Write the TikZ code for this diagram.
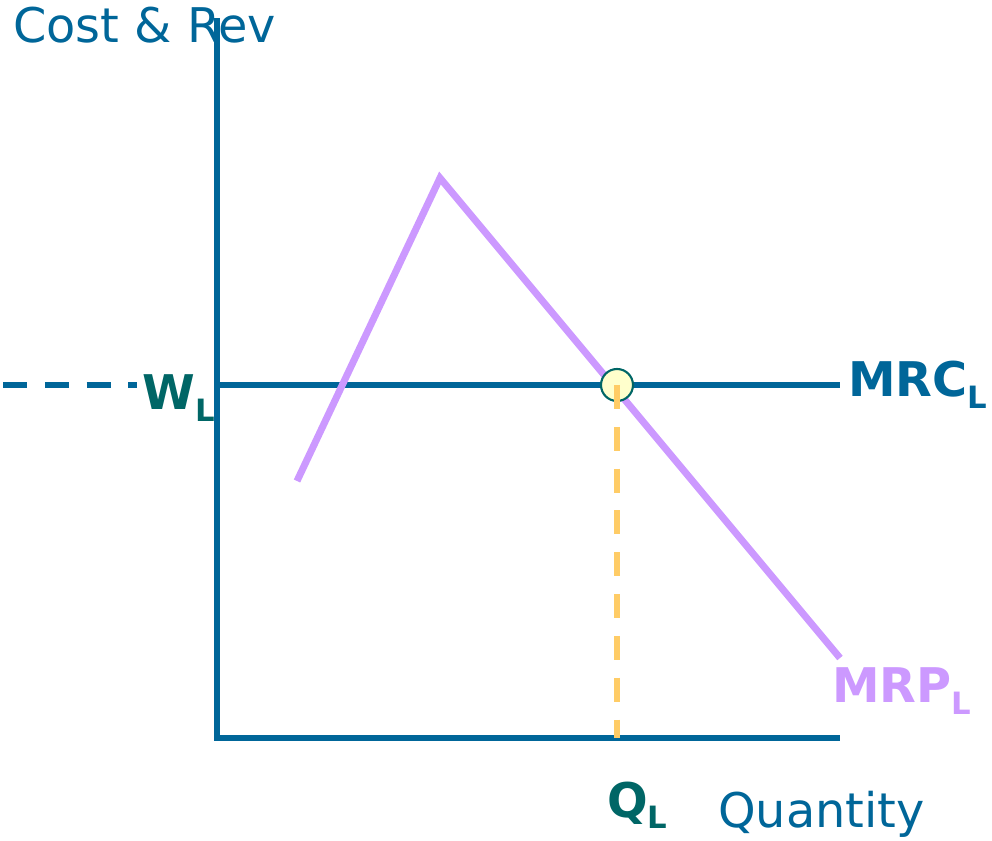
\documentclass[tikz,border=0pt]{standalone}
\usepackage{fontspec}
\setmainfont{DejaVu Sans}
\definecolor{axisblue}{HTML}{006699}
\definecolor{labelteal}{HTML}{006666}
\definecolor{mrppurple}{HTML}{CC99FF}
\definecolor{qorange}{HTML}{FFCC66}
\definecolor{dotfill}{HTML}{FFFFCC}
\newcommand{\lsub}[1]{\raisebox{-6.8pt}{\fontsize{17.5}{18}\selectfont #1}}
\begin{document}
\begin{tikzpicture}[x=0.02cm, y=-0.02cm]
      \tikzstyle{ax}=[draw=axisblue, line width=2.9pt]
      \tikzstyle{lab}=[inner sep=0pt, anchor=base west, font=\fontsize{27.2}{30}\selectfont]
      \tikzstyle{blab}=[lab, font=\fontsize{27.2}{30}\selectfont\bfseries]
      \tikzstyle{dsh}=[dash pattern=on 13.6pt off 10.2pt]
      \useasboundingbox (0,0) rectangle (992,841);
      % axes
      \coordinate (o) at (217,738);
      \coordinate (ytop) at (217,18);
      \coordinate (xend) at (840,738);
      \coordinate (w0) at (217,385);
      \coordinate (wend) at (840,385);
      \coordinate (wleft) at (3,385);
      \coordinate (wdash) at (137,385);
      \coordinate (p1) at (297,481);
      \coordinate (p2) at (440,178);
      \coordinate (p3) at (840,658);
      \coordinate (q0) at (617,738);
      \draw[ax] (ytop) -- (o) -- (xend);
      \draw[ax] (w0) -- (wend);
      \draw[axisblue, line width=2.9pt, dsh] (wleft) -- (wdash);
      % MRP curve
      \draw[mrppurple, line width=4pt] (p1) -- (p2) -- (p3);
      % equilibrium
      \node[circle, draw=labelteal, fill=dotfill, line width=1.2pt, minimum size=0.64cm, inner sep=0pt] (eq) at (617,385) {};
      \draw[qorange, line width=3.4pt, dsh] (eq.center) -- (q0);
      % labels
      \node[lab, text=axisblue] (ylab) at (13,43) {Cost \& Rev};
      \node[lab, text=axisblue] (xlab) at (718,827) {Quantity};
      \node[blab, text=labelteal] (wl) at (142,410) {W\lsub{L}};
      \node[blab, text=labelteal] (ql) at (607,817) {Q\lsub{L}};
      \node[blab, text=axisblue] (mrc) at (848,397) {MRC\lsub{L}};
      \node[blab, text=mrppurple] (mrp) at (832,703) {MRP\lsub{L}};
    \end{tikzpicture}
\end{document}
